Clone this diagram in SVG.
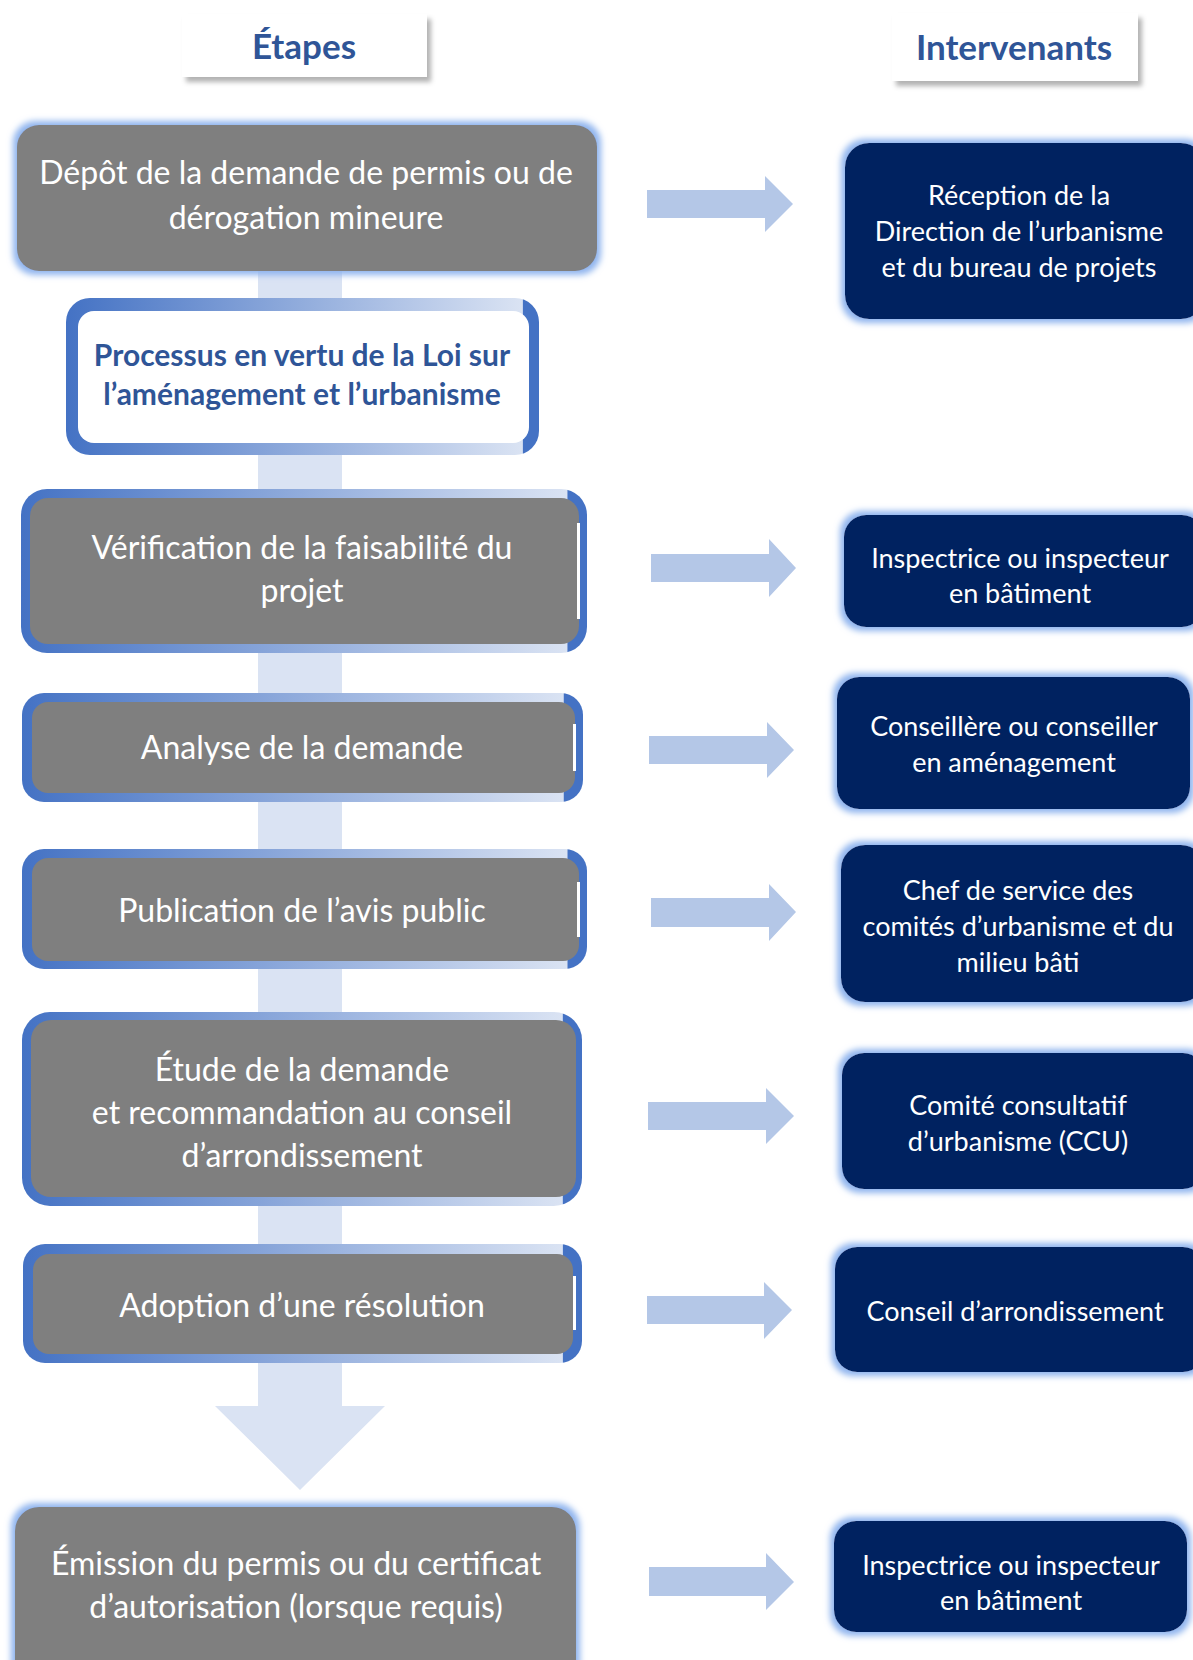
<svg xmlns="http://www.w3.org/2000/svg" width="1193" height="1660" viewBox="0 0 1193 1660">
<style>
.gt{font-family:Lato,"Open Sans","Liberation Sans",sans-serif;font-size:32px;fill:#fff;text-anchor:middle}
.rt{font-family:Lato,"Open Sans","Liberation Sans",sans-serif;font-size:27px;fill:#fff;text-anchor:middle}
.ht{font-family:Lato,"Open Sans","Liberation Sans",sans-serif;font-size:35px;font-weight:bold;fill:#2F5597;text-anchor:middle}
.pt{font-family:Lato,"Open Sans","Liberation Sans",sans-serif;font-size:30px;font-weight:bold;fill:#2F5597;text-anchor:middle}
.gray{fill:#7F7F7F}
.navy{fill:#002060}
.arr{fill:#B4C7E7}
.bar{fill:#DAE3F3}
</style>
<defs>
<linearGradient id="bord" x1="0" y1="0" x2="1" y2="0">
<stop offset="0" stop-color="#4472C4"/>
<stop offset="0.965" stop-color="#DAE3F3"/>
<stop offset="0.966" stop-color="#4472C4"/>
<stop offset="1" stop-color="#4472C4"/>
</linearGradient>
<filter id="glow" x="-10%" y="-20%" width="120%" height="140%">
<feMorphology in="SourceAlpha" operator="dilate" radius="4" result="d"/>
<feGaussianBlur in="d" stdDeviation="3" result="b"/>
<feFlood flood-color="#8FB4EE"/>
<feComposite in2="b" operator="in" result="g"/>
<feMerge><feMergeNode in="g"/><feMergeNode in="SourceGraphic"/></feMerge>
</filter>
<filter id="shadow" x="-10%" y="-20%" width="130%" height="160%">
<feDropShadow dx="4" dy="5" stdDeviation="2.5" flood-color="#000" flood-opacity="0.3"/>
</filter>
</defs>
<rect width="1193" height="1660" fill="#fff"/>

<g id="connectors">
<path class="bar" d="M258,260 H342 V1406 H385 L300,1490 L215,1406 H258 Z"/>
<path class="arr" d="M647,190 H765 V176 L793,204 L765,232 V218 H647 Z"/>
<path class="arr" d="M651,554 H769 V539 L796,568 L769,597 V582 H651 Z"/>
<path class="arr" d="M649,736 H767 V722 L794,750 L767,778 V764 H649 Z"/>
<path class="arr" d="M651,898 H769 V884 L796,912 L769,941 V927 H651 Z"/>
<path class="arr" d="M648,1102 H766 V1088 L794,1116 L766,1144 V1130 H648 Z"/>
<path class="arr" d="M647,1296 H764 V1282 L792,1310 L764,1339 V1324 H647 Z"/>
<path class="arr" d="M649,1567 H766 V1553 L794,1582 L766,1610 V1596 H649 Z"/>
</g>

<g id="header-etapes">
<rect x="182" y="14" width="245" height="63" fill="#fff" filter="url(#shadow)"/>
<text class="ht" x="304" y="59">Étapes</text>
</g>
<g id="header-intervenants">
<rect x="892" y="13" width="246" height="68" fill="#fff" filter="url(#shadow)"/>
<text class="ht" x="1014" y="60">Intervenants</text>
</g>

<g id="step-depot">
<rect class="gray" x="17" y="125" width="580" height="146" rx="22" filter="url(#glow)"/>
<text class="gt" x="306" y="184">Dépôt de la demande de permis ou de</text>
<text class="gt" x="306" y="229">dérogation mineure</text>
</g>

<g id="step-processus">
<rect x="66" y="298" width="473" height="157" rx="24" fill="url(#bord)"/>
<rect x="78" y="311" width="451" height="132" rx="16" fill="#fff"/>
<text class="pt" x="302" y="366">Processus en vertu de la Loi sur</text>
<text class="pt" x="302" y="405">l’aménagement et l’urbanisme</text>
</g>

<g id="step-verification">
<rect x="21" y="489" width="566" height="164" rx="26" fill="url(#bord)"/>
<rect class="gray" x="30" y="498" width="549" height="146" rx="18"/>
<rect x="577" y="523" width="3" height="96" fill="#fff"/>
<text class="gt" x="302" y="559">Vérification de la faisabilité du</text>
<text class="gt" x="302" y="602">projet</text>
</g>

<g id="step-analyse">
<rect x="22" y="693" width="561" height="109" rx="22" fill="url(#bord)"/>
<rect class="gray" x="32" y="702" width="543" height="91" rx="16"/>
<rect x="573" y="724" width="3" height="47" fill="#fff"/>
<text class="gt" x="302" y="759">Analyse de la demande</text>
</g>

<g id="step-publication">
<rect x="22" y="849" width="565" height="120" rx="22" fill="url(#bord)"/>
<rect class="gray" x="32" y="858" width="547" height="103" rx="16"/>
<rect x="577" y="882" width="3" height="55" fill="#fff"/>
<text class="gt" x="302" y="922">Publication de l’avis public</text>
</g>

<g id="step-etude">
<rect x="22" y="1012" width="560" height="194" rx="28" fill="url(#bord)"/>
<rect class="gray" x="31" y="1020" width="545" height="177" rx="20"/>
<text class="gt" x="302" y="1081">Étude de la demande</text>
<text class="gt" x="302" y="1124">et recommandation au conseil</text>
<text class="gt" x="302" y="1167">d’arrondissement</text>
</g>

<g id="step-adoption">
<rect x="23" y="1244" width="559" height="119" rx="22" fill="url(#bord)"/>
<rect class="gray" x="33" y="1254" width="540" height="100" rx="16"/>
<rect x="573" y="1276" width="3" height="54" fill="#fff"/>
<text class="gt" x="302" y="1317">Adoption d’une résolution</text>
</g>

<g id="step-emission">
<rect class="gray" x="15" y="1507" width="561" height="180" rx="24" filter="url(#glow)"/>
<text class="gt" x="296" y="1575">Émission du permis ou du certificat</text>
<text class="gt" x="296" y="1618">d’autorisation (lorsque requis)</text>
</g>

<g id="actor-reception">
<rect class="navy" x="845" y="143" width="360" height="176" rx="24" filter="url(#glow)"/>
<text class="rt" x="1019" y="205">Réception de la</text>
<text class="rt" x="1019" y="241">Direction de l’urbanisme</text>
<text class="rt" x="1019" y="277">et du bureau de projets</text>
</g>

<g id="actor-inspecteur-1">
<rect class="navy" x="844" y="515" width="360" height="112" rx="22" filter="url(#glow)"/>
<text class="rt" x="1020" y="568">Inspectrice ou inspecteur</text>
<text class="rt" x="1020" y="603">en bâtiment</text>
</g>

<g id="actor-conseiller">
<rect class="navy" x="837" y="677" width="353" height="132" rx="22" filter="url(#glow)"/>
<text class="rt" x="1014" y="736">Conseillère ou conseiller</text>
<text class="rt" x="1014" y="772">en aménagement</text>
</g>

<g id="actor-chef">
<rect class="navy" x="841" y="845" width="364" height="157" rx="24" filter="url(#glow)"/>
<text class="rt" x="1018" y="900">Chef de service des</text>
<text class="rt" x="1018" y="936">comités d’urbanisme et du</text>
<text class="rt" x="1018" y="972">milieu bâti</text>
</g>

<g id="actor-ccu">
<rect class="navy" x="842" y="1053" width="363" height="136" rx="22" filter="url(#glow)"/>
<text class="rt" x="1018" y="1115">Comité consultatif</text>
<text class="rt" x="1018" y="1151">d’urbanisme (CCU)</text>
</g>

<g id="actor-conseil">
<rect class="navy" x="835" y="1247" width="370" height="125" rx="22" filter="url(#glow)"/>
<text class="rt" x="1015" y="1321">Conseil d’arrondissement</text>
</g>

<g id="actor-inspecteur-2">
<rect class="navy" x="834" y="1521" width="353" height="111" rx="22" filter="url(#glow)"/>
<text class="rt" x="1011" y="1575">Inspectrice ou inspecteur</text>
<text class="rt" x="1011" y="1610">en bâtiment</text>
</g>
</svg>
